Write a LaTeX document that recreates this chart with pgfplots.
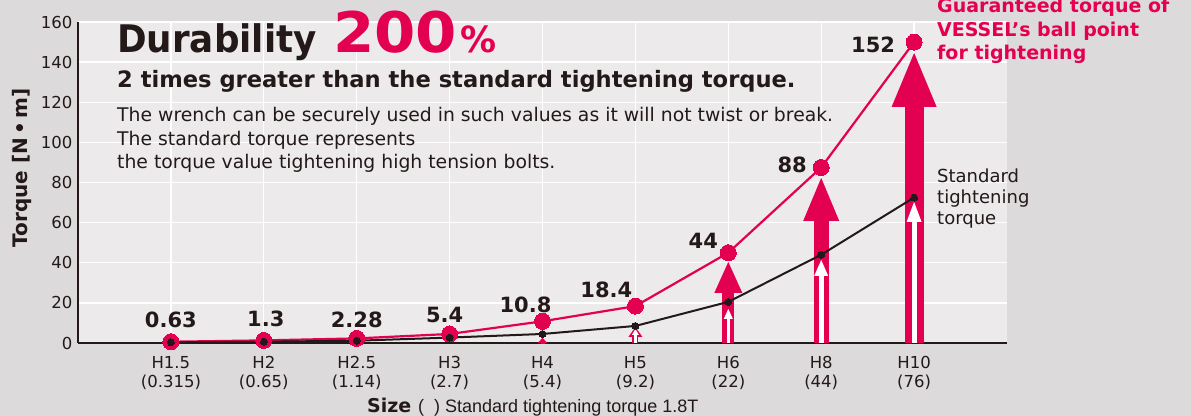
\documentclass[border=0pt]{standalone}
\usepackage{pgfplots}
\pgfplotsset{compat=1.18}
\usetikzlibrary{arrows.meta}
\usepackage{graphicx}
\usepackage{fontspec}
\setmainfont{DejaVu Sans}
\newfontfamily\libsans{Liberation Sans}
\definecolor{vred}{RGB}{228,0,80}
\definecolor{txt}{RGB}{35,25,25}
\definecolor{outerbg}{RGB}{221,218,219}
\definecolor{innerbg}{RGB}{236,234,235}
\newcommand{\fs}[2]{\fontsize{#1bp}{#2bp}\selectfont}

\begin{document}
\begin{tikzpicture}
\fill[outerbg] (0bp,0bp) rectangle (1191bp,416bp);
\begin{axis}[
  at={(78bp,73bp)}, anchor=south west,
  scale only axis, width=929bp, height=321bp,
  xmin=-1, xmax=9, ymin=0, ymax=160,
  axis x line=bottom, axis y line=left,
  axis line style={-, draw=txt, line width=1.8bp},
  axis background/.style={fill=innerbg},
  xtick={0,...,8},
  xticklabels={{H1.5\\(0.315)},{H2\\(0.65)},{H2.5\\(1.14)},{H3\\(2.7)},{H4\\(5.4)},{H5\\(9.2)},{H6\\(22)},{H8\\(44)},{H10\\(76)}},
  ytick={0,20,...,160},
  grid=major, grid style={white, line width=1.3bp},
  major tick length=0pt,
  xticklabel style={align=center, font=\fs{16.5}{19}, text=txt, yshift=-10bp},
  yticklabel style={font=\fs{16.5}{19}, text=txt, xshift=-2bp},
  /pgf/number format/assume math mode=true,
  clip=false,
]
% red arrows
\addplot[vred, line width=19bp, quiver={u=0,v=144.6}, -{Triangle[width=45bp,length=54bp,line width=0pt]}] coordinates {(8,0)};
\addplot[vred, line width=15bp, quiver={u=0,v=82.3}, -{Triangle[width=36bp,length=43bp,line width=0pt]}] coordinates {(7,0)};
\addplot[vred, line width=12bp, quiver={u=0,v=40.4}, -{Triangle[width=28bp,length=31bp,line width=0pt]}] coordinates {(6,0)};
\addplot[vred, line width=6bp, quiver={u=0,v=8}, -{Triangle[width=14bp,length=10bp,line width=0pt]}] coordinates {(5,0)};
\addplot[vred, line width=4bp, quiver={u=0,v=2.6}, -{Triangle[width=9bp,length=5bp,line width=0pt]}] coordinates {(4,0)};
% white arrows
\addplot[white, line width=5bp, quiver={u=0,v=70.3}, -{Triangle[width=15bp,length=20bp,line width=0pt]}] coordinates {(8,0)};
\addplot[white, line width=5bp, quiver={u=0,v=41.4}, -{Triangle[width=14bp,length=16bp,line width=0pt]}] coordinates {(7,0)};
\addplot[white, line width=3bp, quiver={u=0,v=17}, -{Triangle[width=9bp,length=10bp,line width=0pt]}] coordinates {(6,0)};
\addplot[white, line width=2.5bp, quiver={u=0,v=7}, -{Triangle[width=7bp,length=6bp,line width=0pt]}] coordinates {(5,0)};
% guaranteed torque (red)
\addplot[vred, line width=2.2bp, mark=*, mark size=8bp,
  mark options={fill=vred, draw=vred, line width=0pt},
  nodes near coords, point meta=explicit symbolic,
  visualization depends on={\thisrow{dx}\as\dx},
  visualization depends on={\thisrow{dy}\as\dy},
  every node near coord/.append style={anchor=base, xshift=\dx bp, yshift=\dy bp,
    font=\bfseries\fs{21}{21}, text=txt, inner sep=0pt}]
  table[x=x, y=y, meta=lab] {
x y lab dx dy
0 0.63 0.63 0 14.7
1 1.3 1.3 2 13.4
2 2.28 2.28 0 11.4
3 4.5 5.4 -5 11
4 10.8 10.8 -17 9.3
5 18.4 18.4 -29 9
6 45 44 -25 4.7
7 87.5 88 -29 -5.5
8 150 152 -41 -10
};
% standard tightening torque (black)
\addplot[txt, line width=2bp, mark=*, mark size=3.5bp,
  mark options={fill=txt, draw=txt, line width=0pt}]
  table {
x y
0 0.315
1 0.65
2 1.14
3 2.7
4 4.5
5 8.5
6 20.5
7 44
8 72.5
};
\end{axis}
% titles
\node[anchor=base west, inner sep=0pt, text=txt] at (117bp,363bp) {\scalebox{0.94}[1]{\bfseries\fs{38}{38}Durability}};
\node[anchor=base west, inner sep=0pt, text=vred] at (333bp,363bp) {\scalebox{1.06}[1]{\bfseries\fs{56}{56}200}};
\node[anchor=base west, inner sep=0pt, text=vred] at (460bp,363bp) {\bfseries\fs{36}{36}\%};
\node[anchor=base west, inner sep=0pt, text=txt] at (117bp,328bp) {\bfseries\fs{22.6}{23}2 times greater than the standard tightening torque.};
\node[anchor=base west, inner sep=0pt, text=txt, align=left, font=\fs{18.8}{23.5}] at (117bp,247bp) {The wrench can be securely used in such values as it will not twist or break.\\The standard torque represents\\the torque value tightening high tension bolts.};
% right annotations
\node[anchor=base west, inner sep=0pt, text=vred, align=left, font=\bfseries\fs{19}{23.5}] at (937bp,356bp) {Guaranteed torque of\\VESSEL's ball point\\for tightening};
\node[anchor=base west, inner sep=0pt, text=txt, align=left, font=\fs{18}{21}] at (937bp,191bp) {Standard\\tightening\\torque};
% axis labels
\node[rotate=90, inner sep=0pt, text=txt] at (22bp,248bp) {\bfseries\fs{20}{20}Torque [N\,•\,m]};
\node[anchor=base west, inner sep=0pt, text=txt] at (367bp,4bp) {\bfseries\fs{19}{19}Size};
\node[anchor=base west, inner sep=0pt, text=txt] at (418bp,4bp) {\libsans\fs{18}{18}(\ \ ) Standard tightening torque 1.8T};
\pgfresetboundingbox
\path[use as bounding box] (0bp,0bp) rectangle (1191bp,416bp);
\end{tikzpicture}
\end{document}
